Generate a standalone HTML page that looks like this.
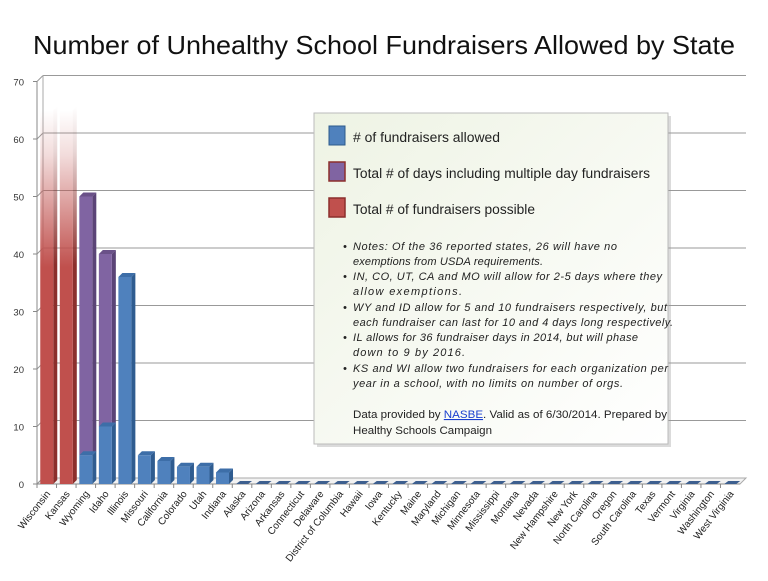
<!DOCTYPE html>
<html><head><meta charset="utf-8"><style>
body{margin:0;background:#fff;width:768px;height:576px;overflow:hidden;font-family:"Liberation Sans",sans-serif}
</style></head><body>
<svg id="chart" width="768" height="576" xmlns="http://www.w3.org/2000/svg">
<defs>
<linearGradient id="redfade" x1="0" y1="0" x2="0" y2="1">
<stop offset="0" stop-color="#c0504d" stop-opacity="0"/>
<stop offset="0.12" stop-color="#c0504d" stop-opacity="0.2"/>
<stop offset="0.42" stop-color="#c0504d" stop-opacity="1"/>
<stop offset="1" stop-color="#c0504d"/>
</linearGradient>
<linearGradient id="redfadeS" x1="0" y1="0" x2="0" y2="1">
<stop offset="0" stop-color="#8c2f2c" stop-opacity="0"/>
<stop offset="0.12" stop-color="#8c2f2c" stop-opacity="0.2"/>
<stop offset="0.42" stop-color="#8c2f2c" stop-opacity="1"/>
<stop offset="1" stop-color="#8c2f2c"/>
</linearGradient>
<linearGradient id="legbg" x1="0" y1="0" x2="1" y2="1">
<stop offset="0" stop-color="#eef3e4"/><stop offset="1" stop-color="#ffffff"/>
</linearGradient>
</defs>
<text x="384" y="54" text-anchor="middle" font-size="26" textLength="702" lengthAdjust="spacingAndGlyphs" fill="#111">Number of Unhealthy School Fundraisers Allowed by State</text>
<g id="axes"></g>
<g id="bars"></g>
<g id="labels"></g>
<g>
<rect x="317" y="116" width="354" height="331" fill="#999" opacity="0.35"/>
<rect x="314" y="113" width="354" height="331" fill="url(#legbg)" stroke="#bbb"/>
<rect x="329" y="126" width="16" height="19" fill="#4f81bd" stroke="#2c5a8c"/>
<text x="353" y="142" font-size="13.5" textLength="147" lengthAdjust="spacingAndGlyphs" fill="#222"># of fundraisers allowed</text>
<rect x="329" y="162" width="16" height="19" fill="#8064a2" stroke="#8c2f2c" stroke-width="1.5"/>
<text x="353" y="178" font-size="13.5" textLength="297" lengthAdjust="spacingAndGlyphs" fill="#222">Total # of days including multiple day fundraisers</text>
<rect x="329" y="198" width="16" height="19" fill="#c0504d" stroke="#8c2f2c" stroke-width="1.5"/>
<text x="353" y="214" font-size="13.5" textLength="182" lengthAdjust="spacingAndGlyphs" fill="#222">Total # of fundraisers possible</text>
<g font-size="11" font-style="italic" fill="#222" lengthAdjust="spacingAndGlyphs">
<text x="343" y="250">•</text><text x="353" y="250" textLength="264">Notes: Of the 36 reported states, 26 will have no</text>
<text x="353" y="265" textLength="190">exemptions from USDA requirements.</text>
<text x="343" y="280">•</text><text x="353" y="280" textLength="309">IN, CO, UT, CA and MO will allow for 2-5 days where they</text>
<text x="353" y="295" textLength="109">allow exemptions.</text>
<text x="343" y="311">•</text><text x="353" y="311" textLength="314">WY and ID allow for 5 and 10 fundraisers respectively, but</text>
<text x="353" y="326" textLength="320">each fundraiser can last for 10 and 4 days long respectively.</text>
<text x="343" y="341">•</text><text x="353" y="341" textLength="285">IL allows for 36 fundraiser days in 2014, but will phase</text>
<text x="353" y="356" textLength="112">down to 9 by 2016.</text>
<text x="343" y="372">•</text><text x="353" y="372" textLength="315">KS and WI allow two fundraisers for each organization per</text>
<text x="353" y="387" textLength="270">year in a school, with no limits on number of orgs.</text>
</g>
<text x="353" y="418" font-size="11" textLength="314" lengthAdjust="spacingAndGlyphs" fill="#222">Data provided by <tspan fill="#1a3fcf" text-decoration="underline">NASBE</tspan>. Valid as of 6/30/2014. Prepared by</text>
<text x="353" y="434" font-size="11" textLength="139" lengthAdjust="spacingAndGlyphs" fill="#222">Healthy Schools Campaign</text>
</g>
</svg>
<script>
const states=["Wisconsin","Kansas","Wyoming","Idaho","Illinois","Missouri","California","Colorado","Utah","Indiana","Alaska","Arizona","Arkansas","Connecticut","Delaware","District of Columbia","Hawaii","Iowa","Kentucky","Maine","Maryland","Michigan","Minnesota","Mississippi","Montana","Nevada","New Hampshire","New York","North Carolina","Oregon","South Carolina","Texas","Vermont","Virginia","Washington","West Virginia"];
const allowed=[0,0,5,10,36,5,4,3,3,2,0,0,0,0,0,0,0,0,0,0,0,0,0,0,0,0,0,0,0,0,0,0,0,0,0,0];
const totalDays=[0,0,50,40,0,0,0,0,0,0,0,0,0,0,0,0,0,0,0,0,0,0,0,0,0,0,0,0,0,0,0,0,0,0,0,0];
const possible=[65,65,0,0,0,0,0,0,0,0,0,0,0,0,0,0,0,0,0,0,0,0,0,0,0,0,0,0,0,0,0,0,0,0,0,0];
const yTicks=[0,10,20,30,40,50,60,70];
const NS="http://www.w3.org/2000/svg";
const y0=484,k=5.75,dx=6,dy=6,left=37,right=740;
const step=(right-left)/states.length;
const Y=v=>y0-v*k;
const X=i=>left+step*(i+0.5);
function mk(t,a,p){const e=document.createElementNS(NS,t);for(const n in a)e.setAttribute(n,a[n]);p.appendChild(e);return e;}
const ax=document.getElementById('axes'),bg=document.getElementById('bars'),lg=document.getElementById('labels');
mk('polygon',{points:`${left},${Y(0)} ${left+dx},${Y(0)-dy} ${right+dx},${Y(0)-dy} ${right},${Y(0)}`,fill:'#f2f2f2',stroke:'#aaa'},ax);
yTicks.forEach(v=>{
 mk('line',{x1:left,y1:Y(v),x2:left+dx,y2:Y(v)-dy,stroke:'#999'},ax);
 if(v>0){const l=mk('line',{x1:left+dx,y1:Y(v)-dy,x2:right+dx,y2:Y(v)-dy,stroke:'#999'},ax);
 
 }
 const t=mk('text',{x:left-13,y:Y(v)+4,'text-anchor':'end','font-size':'9.5','fill':'#333'},ax);
 t.textContent=v;
 
 
 mk('line',{x1:left-4,y1:Y(v),x2:left,y2:Y(v),stroke:'#888'},ax);
});
mk('line',{x1:left,y1:Y(0),x2:left,y2:Y(70),stroke:'#888'},ax);
mk('line',{x1:left+dx,y1:Y(0)-dy,x2:left+dx,y2:Y(70)-dy,stroke:'#aaa'},ax);
mk('line',{x1:left,y1:Y(0),x2:right,y2:Y(0),stroke:'#888'},ax);
function bar(i,v0,v1,front,side,top,name){
 const w=13,x=X(i)-w/2,d=4;
 const g=mk('g',{},bg);
 
 
 mk('polygon',{points:`${x+w},${Y(v1)} ${x+w+d},${Y(v1)-d} ${x+w+d},${Y(v0)-d} ${x+w},${Y(v0)}`,fill:side},g);
 if(top) mk('polygon',{points:`${x},${Y(v1)} ${x+d},${Y(v1)-d} ${x+w+d},${Y(v1)-d} ${x+w},${Y(v1)}`,fill:top},g);
 mk('rect',{x:x,y:Y(v1),width:w,height:Math.max(0.01,Y(v0)-Y(v1)),fill:front},g);
}
states.forEach((s,i)=>{
 if(possible[i]>0) bar(i,0,possible[i],'url(#redfade)','url(#redfadeS)',null,'bar-possible-'+s.toLowerCase().replace(/ /g,'-'));
 if(totalDays[i]>0) bar(i,allowed[i],totalDays[i],'#8064a2','#5b4477','#6a5188','bar-days-'+s.toLowerCase().replace(/ /g,'-'));
 if(allowed[i]>0) bar(i,0,allowed[i],'#4f81bd','#2f5c90','#3d6ea8','bar-allowed-'+s.toLowerCase().replace(/ /g,'-'));
 else if(possible[i]===0){
  const x=X(i)-6;
  const r=mk('polygon',{points:`${x},${y0} ${x+4},${y0-3} ${x+16},${y0-3} ${x+12},${y0}`,fill:'#3d5f8f'},bg);
  
  
 }
 mk('line',{x1:left+step*i,y1:y0,x2:left+step*i,y2:y0+4,stroke:'#888'},ax);
 const t=mk('text',{transform:`translate(${X(i)+4},${y0+10}) rotate(-52)`,'text-anchor':'end','font-size':'10',fill:'#222'},lg);
 t.textContent=s;
 
 
});
</script>
</body></html>
